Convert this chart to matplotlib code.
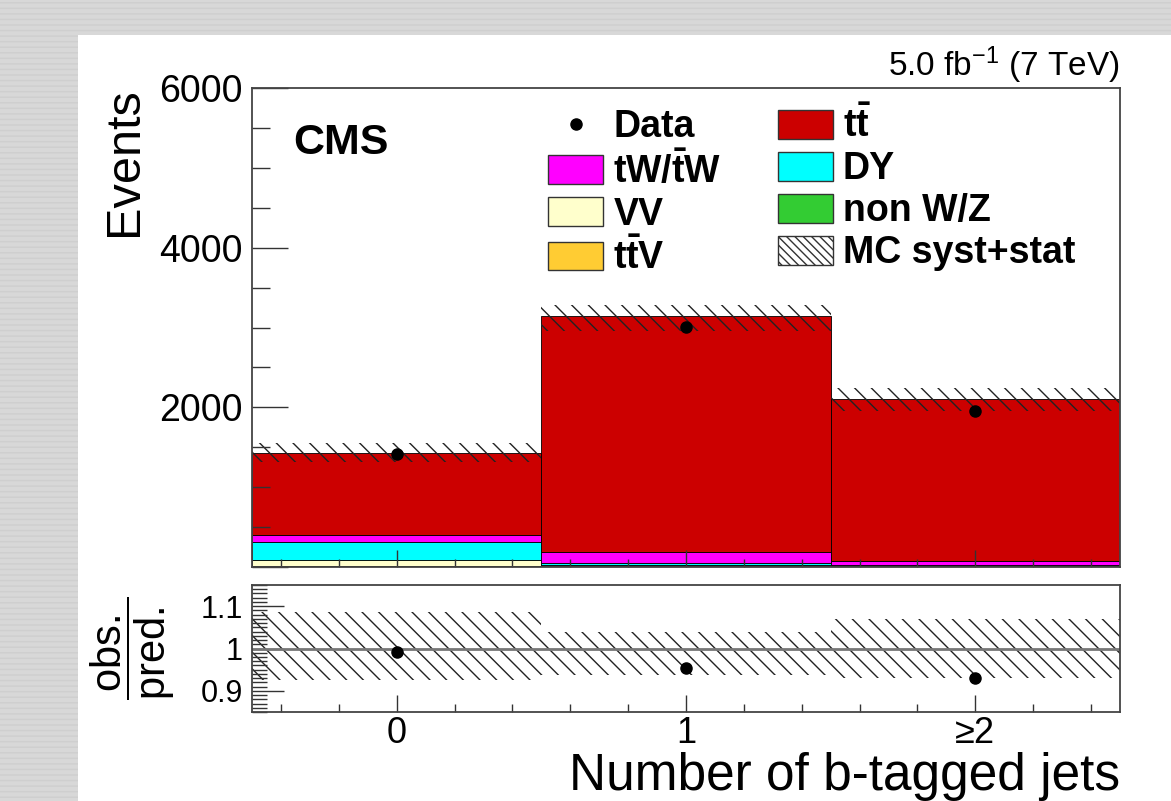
import matplotlib
matplotlib.use('Agg')
import matplotlib.pyplot as plt
import numpy as np
from matplotlib.patches import Patch, Rectangle
from matplotlib.lines import Line2D
from matplotlib.ticker import MultipleLocator

plt.rcParams['font.family'] = ['Liberation Sans', 'DejaVu Sans']
plt.rcParams['mathtext.fontset'] = 'custom'
plt.rcParams['mathtext.rm'] = 'Liberation Sans'
plt.rcParams['mathtext.it'] = 'Liberation Sans:italic'
plt.rcParams['mathtext.bf'] = 'Liberation Sans:bold'
plt.rcParams['hatch.linewidth'] = 1.0

# b-tag multiplicity bins
bins = [0, 1, 2]
bin_labels = ['0', '1', '\u22652']

# observed events
data = [1412, 3004, 1954]

# stacked predictions (bottom -> top)
nonwz = [10, 3, 2]
ttv = [5, 5, 10]
vv = [70, 12, 4]
dy = [225, 25, 4]
tw = [85, 145, 55]
ttbar = [1030, 2960, 2025]

# MC syst+stat band, relative to total prediction
band_lo = [0.926, 0.938, 0.931]
band_hi = [1.086, 1.040, 1.069]

W, H = 1171, 801
fig = plt.figure(figsize=(W / 100, H / 100), dpi=100)
fig.patch.set_facecolor('#d8d8d8')
fig.add_artist(Rectangle((0, 0), 1, 1, transform=fig.transFigure, facecolor='#d8d8d8',
                         edgecolor='#cfcfcf', hatch='---', lw=0, zorder=-2))
fig.add_artist(Rectangle((78 / W, 0), 1 - 78 / W, 1 - 35 / H, transform=fig.transFigure,
                         facecolor='white', edgecolor='none', zorder=-1))

def fx(px):
    return px / W

def fy(py):
    return 1 - py / H

ax = fig.add_axes([fx(252), fy(567), fx(1120) - fx(252), fy(88) - fy(567)])
rax = fig.add_axes([fx(252), fy(712), fx(1120) - fx(252), fy(585) - fy(712)])

stack = [
    (nonwz, '#33cc33'),
    (ttv, '#ffcc33'),
    (vv, '#ffffcc'),
    (dy, '#00ffff'),
    (tw, '#ff00ff'),
    (ttbar, '#cc0000'),
]
bottom = np.zeros(len(bins))
for vals, col in stack:
    ax.bar(bins, vals, width=1, bottom=bottom, color=col, edgecolor='black', linewidth=0.6)
    bottom = bottom + np.array(vals)
total = bottom

lo = total * np.array(band_lo)
hi = total * np.array(band_hi)
ax.bar(bins, hi - lo, bottom=lo, width=1, fill=False, hatch='\\\\', edgecolor='#222222', linewidth=0)
ax.plot(bins, data, 'o', color='black', ms=8, zorder=3)

ax.set_xlim(-0.5, 2.5)
ax.set_ylim(0, 6000)
ax.set_yticks([0, 2000, 4000, 6000])
ax.set_yticklabels(['', '2000', '4000', '6000'], fontsize=27)
ax.yaxis.set_minor_locator(MultipleLocator(500))
ax.set_xticks(bins)
ax.xaxis.set_minor_locator(MultipleLocator(0.2))
ax.tick_params(axis='both', which='both', direction='in', top=False, right=False,
               labelbottom=False, color='#333333', width=1.0)
ax.tick_params(axis='y', which='major', length=26, pad=6.5)
ax.tick_params(axis='y', which='minor', length=13)
ax.tick_params(axis='x', which='major', length=12)
ax.tick_params(axis='x', which='minor', length=6)

# ratio panel
ratio = np.array(data) / total
rax.bar(bins, np.array(band_hi) - np.array(band_lo), bottom=band_lo, width=1, fill=False,
        hatch='\\\\', edgecolor='#222222', linewidth=0)
rax.axhline(1, color='#777777', lw=2, zorder=2)
rax.plot(bins, ratio, 'o', color='black', ms=8, zorder=3)
rax.set_xlim(-0.5, 2.5)
rax.set_ylim(0.85, 1.15)
rax.set_yticks([0.9, 1.0, 1.1])
rax.set_yticklabels(['0.9', '1', '1.1'], fontsize=22)
rax.yaxis.set_minor_locator(MultipleLocator(0.01))
rax.set_xticks(bins)
rax.set_xticklabels(bin_labels, fontsize=26)
rax.xaxis.set_minor_locator(MultipleLocator(0.2))
rax.tick_params(axis='both', which='both', direction='in', top=False, right=False,
                color='#333333', width=1.0)
rax.tick_params(axis='y', which='major', length=23, pad=6.5)
rax.tick_params(axis='y', which='minor', length=11)
rax.tick_params(axis='x', which='major', length=12, pad=3)
rax.tick_params(axis='x', which='minor', length=6)

for a in (ax, rax):
    for s in a.spines.values():
        s.set_linewidth(1.3)
        s.set_color('#444444')

# legend
handles = [
    Line2D([], [], marker='o', color='black', ls='none', ms=8),
    Patch(facecolor='#ff00ff', edgecolor='#333333', lw=1),
    Patch(facecolor='#ffffcc', edgecolor='#333333', lw=1),
    Patch(facecolor='#ffcc33', edgecolor='#333333', lw=1),
    Patch(facecolor='#cc0000', edgecolor='#333333', lw=1),
    Patch(facecolor='#00ffff', edgecolor='#333333', lw=1),
    Patch(facecolor='#33cc33', edgecolor='#333333', lw=1),
    Patch(facecolor='white', edgecolor='#333333', lw=1, hatch='\\\\\\\\'),
]
labels = ['Data', r'$\mathbf{tW/\bar{t}W}$', 'VV', r'$\mathbf{t\bar{t}V}$',
          r'$\mathbf{t\bar{t}}$', 'DY', 'non W/Z', 'MC syst+stat']
fig.legend(handles, labels, loc='upper left', bbox_to_anchor=(fx(548), fy(107)), ncol=2,
           frameon=False, prop={'size': 27, 'weight': 'bold'}, borderpad=0, borderaxespad=0,
           handlelength=1.47, handleheight=0.8, handletextpad=0.27, columnspacing=1.5,
           labelspacing=0.16)

fig.text(fx(293), fy(123), 'CMS', fontsize=31, fontweight='bold', ha='left', va='top')
fig.text(fx(1120), fy(76), r'5.0 fb$^{-1}$ (7 TeV)', fontsize=24, ha='right', va='baseline')
fig.text(fx(125), fy(87), 'Events', fontsize=35, rotation=90, ha='center', va='top')
fig.text(fx(133), fy(648), r'$\dfrac{\mathrm{obs.}}{\mathrm{pred.}}$', fontsize=30,
         rotation=90, ha='center', va='center')
fig.text(fx(1120), fy(790), 'Number of b-tagged jets', fontsize=37, ha='right', va='baseline')

fig.savefig('out.png', dpi=100, facecolor=fig.get_facecolor())
